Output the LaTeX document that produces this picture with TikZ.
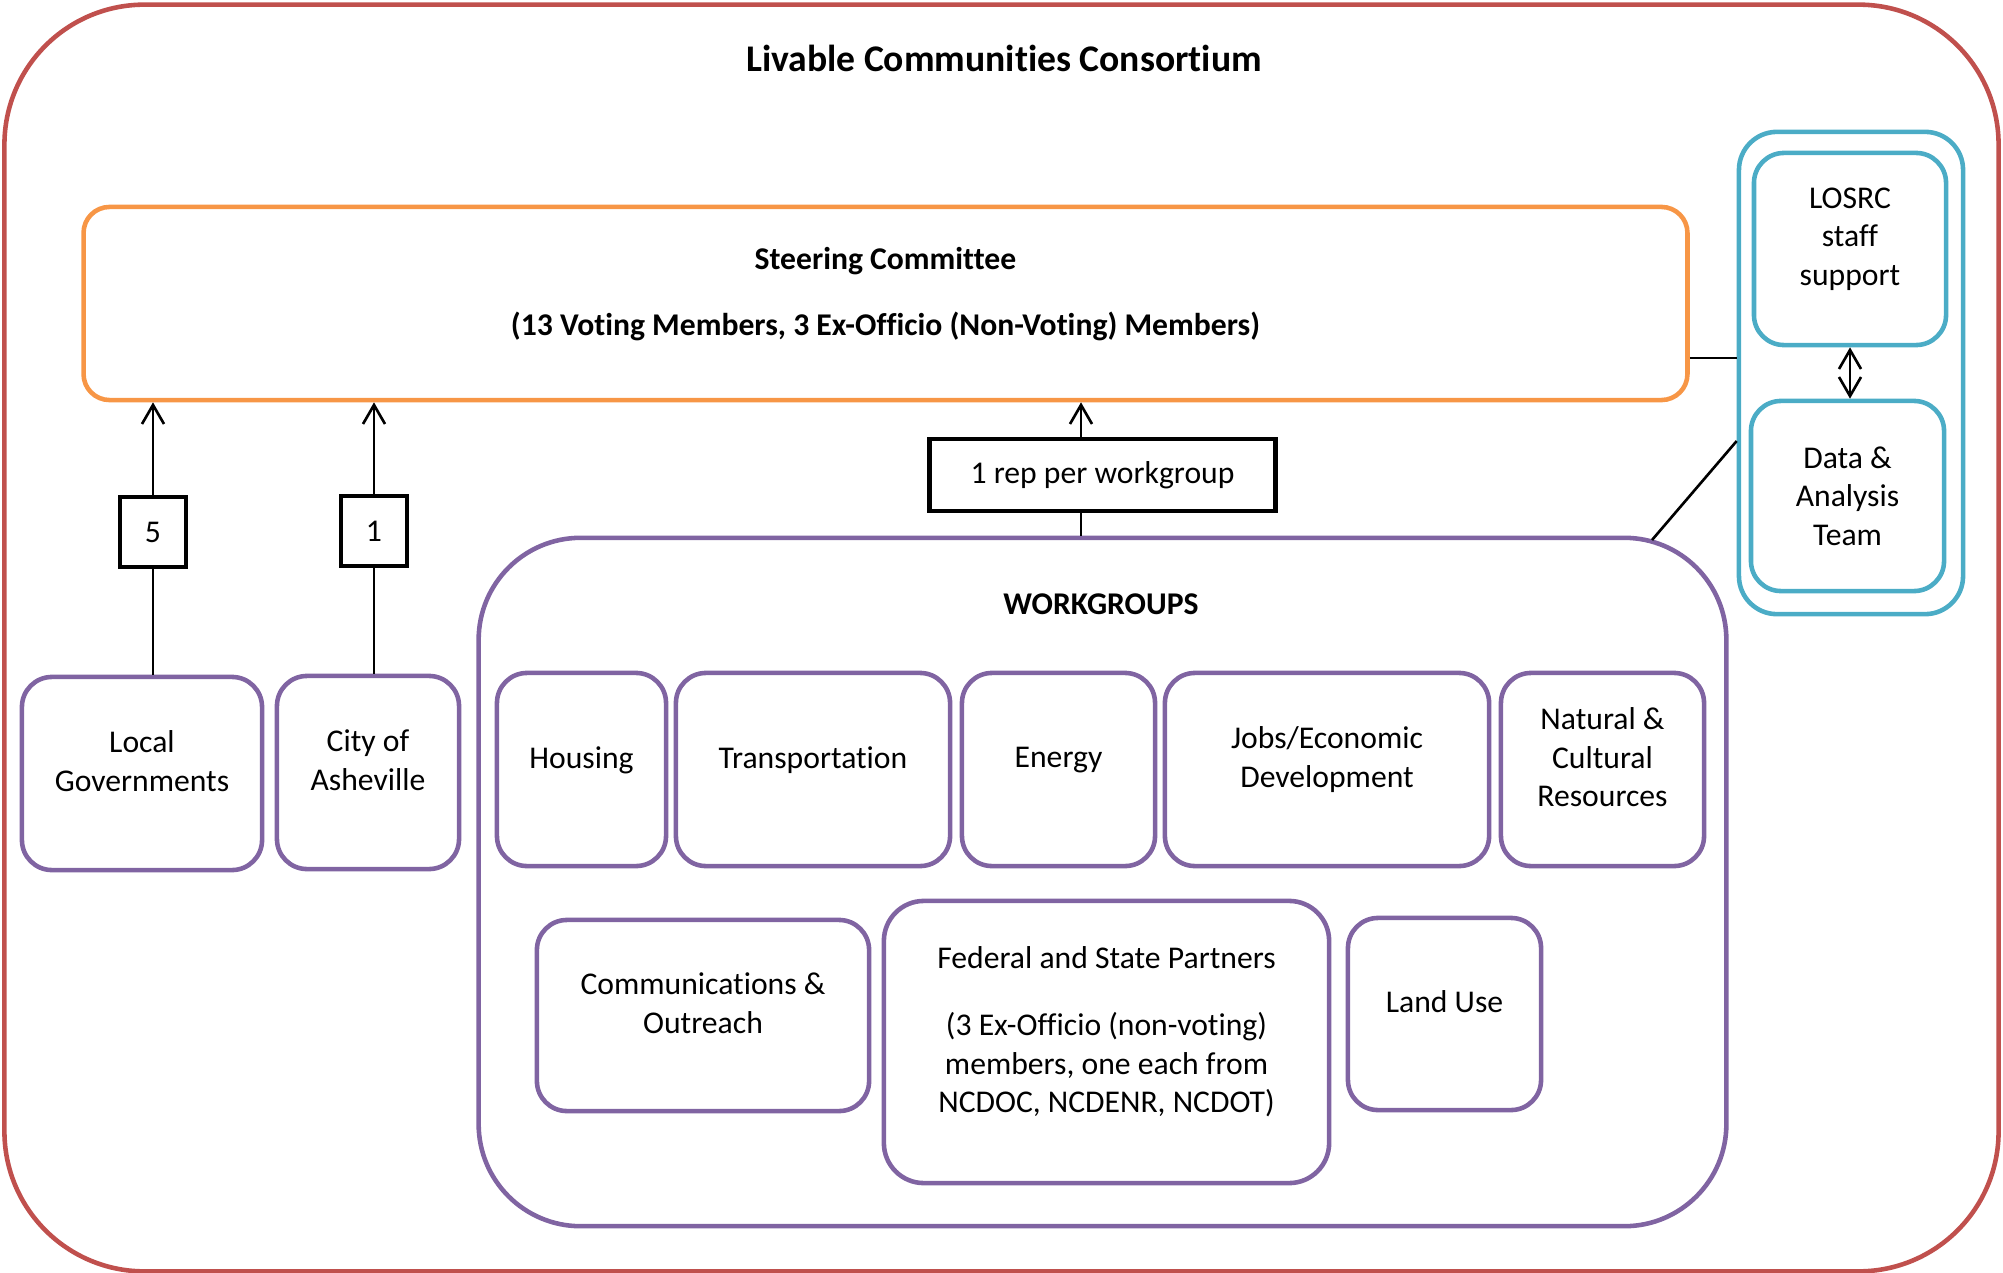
\documentclass[tikz,border=0pt]{standalone}
\usepackage{fontspec}
\setmainfont{Carlito}[Ligatures=NoCommon]
\usepackage{xcolor}
\usepackage{tikz}
\usetikzlibrary{arrows.meta, positioning, calc}
\definecolor{framered}{RGB}{192,80,77}
\definecolor{steerorange}{RGB}{247,150,70}
\definecolor{groupviolet}{RGB}{128,100,162}
\definecolor{staffblue}{RGB}{75,172,198}

\begin{document}
\begin{tikzpicture}[
    x=0.01cm, y=-0.01cm,
    every node/.style={font=\fontsize{9}{11}\selectfont, align=center},
    box/.style={draw=groupviolet, line width=1.3pt, rounded corners=0.3cm, inner sep=2pt, text depth=7pt},
    count/.style={draw, line width=1.4pt, inner sep=0pt},
    arrow/.style={-{Straight Barb[length=1.9mm, width=2.2mm]}, line width=0.75pt},
    link/.style={line width=0.75pt}
]
    \useasboundingbox (0,0) rectangle (2003,1273);

    % Consortium frame
    \node[draw=framered, line width=1.3pt, rounded corners=1.4cm, minimum width=19.93cm, minimum height=12.66cm] (consortium) at (1001.5,638) {};
    \node[font=\fontsize{10.7}{13}\selectfont\bfseries] (title) at (1004,58) {Livable Communities Consortium};

    % Steering committee
    \node[draw=steerorange, line width=1.3pt, rounded corners=0.26cm, text depth=7pt, minimum width=16.03cm, minimum height=1.93cm] (steering) at (885.5,303.5) {\textbf{Steering Committee}\\[0.27cm]\textbf{(13 Voting Members, 3 Ex-Officio (Non-Voting) Members)}};

    % Staff support
    \node[draw=staffblue, line width=1.3pt, rounded corners=0.38cm, minimum width=2.24cm, minimum height=4.82cm] (staffgroup) at (1851,373) {};
    \node[box, draw=staffblue, minimum width=1.92cm, minimum height=1.92cm] (losrc) at (1850,249) {LOSRC\\staff\\support};
    \node[box, draw=staffblue, text depth=0pt, minimum width=1.93cm, minimum height=1.90cm] (data) at (1847.5,496) {Data \&\\Analysis\\Team};

    % Representation
    \node[box, minimum width=2.40cm, minimum height=1.93cm] (local) at (142,773.5) {Local\\Governments};
    \node[box, minimum width=1.82cm, minimum height=1.93cm] (city) at (368,772.5) {City of\\Asheville};
    \node[count, minimum width=0.66cm, minimum height=0.70cm] (five) at (153,532) {5};
    \node[count, minimum width=0.66cm, minimum height=0.70cm] (one) at (374,531) {1};
    \node[count, minimum width=3.45cm, minimum height=0.72cm] (rep) at (1102.5,475) {1 rep per workgroup};

    % Workgroups
    \node[box, rounded corners=1.02cm, minimum width=12.47cm, minimum height=6.88cm] (workgroups) at (1102.5,882) {};
    \node[font=\fontsize{9}{11}\selectfont\bfseries] (wgtitle) at (1101,604) {WORKGROUPS};
    \node[box, minimum width=1.69cm, minimum height=1.93cm] (housing) at (581.5,769.5) {Housing};
    \node[box, minimum width=2.74cm, minimum height=1.93cm] (transport) at (813,769.5) {Transportation};
    \node[box, minimum width=1.93cm, minimum height=1.93cm] (energy) at (1058.5,769.5) {Energy};
    \node[box, minimum width=3.24cm, minimum height=1.93cm] (jobs) at (1327,769.5) {Jobs/Economic\\Development};
    \node[box, minimum width=2.03cm, minimum height=1.93cm] (natural) at (1602.5,769.5) {Natural \&\\Cultural\\Resources};
    \node[box, minimum width=3.32cm, minimum height=1.91cm] (comms) at (703,1015.5) {Communications \&\\Outreach};
    \node[box, rounded corners=0.4cm, minimum width=4.45cm, minimum height=2.82cm] (federal) at (1106.5,1042) {Federal and State Partners\\[0.28cm](3 Ex-Officio (non-voting)\\members, one each from\\NCDOC, NCDENR, NCDOT)};
    \node[box, minimum width=1.93cm, minimum height=1.92cm] (landuse) at (1444.5,1014) {Land Use};

    % Connectors
    \coordinate (repx) at (1081,0);
    \coordinate (wgcorner) at (1652,540);
    \draw[link] (local.north -| five) -- (five.south);
    \draw[arrow] (five.north) -- (five.north |- steering.south);
    \draw[link] (city.north -| one) -- (one.south);
    \draw[arrow] (one.north) -- (one.north |- steering.south);
    \draw[link] (workgroups.north -| repx) -- (rep.south -| repx);
    \draw[arrow] (rep.north -| repx) -- (steering.south -| repx);
    \draw[link] ([yshift=-0.545cm]steering.east) -- ([yshift=-0.545cm]steering.east -| staffgroup.west);
    \draw[link] ([yshift=-0.68cm]staffgroup.west) -- (wgcorner);
    \draw[arrow, {Straight Barb[length=1.9mm, width=2.2mm]}-{Straight Barb[length=1.9mm, width=2.2mm]}] (losrc.south) -- (losrc.south |- data.north);
\end{tikzpicture}
\end{document}
